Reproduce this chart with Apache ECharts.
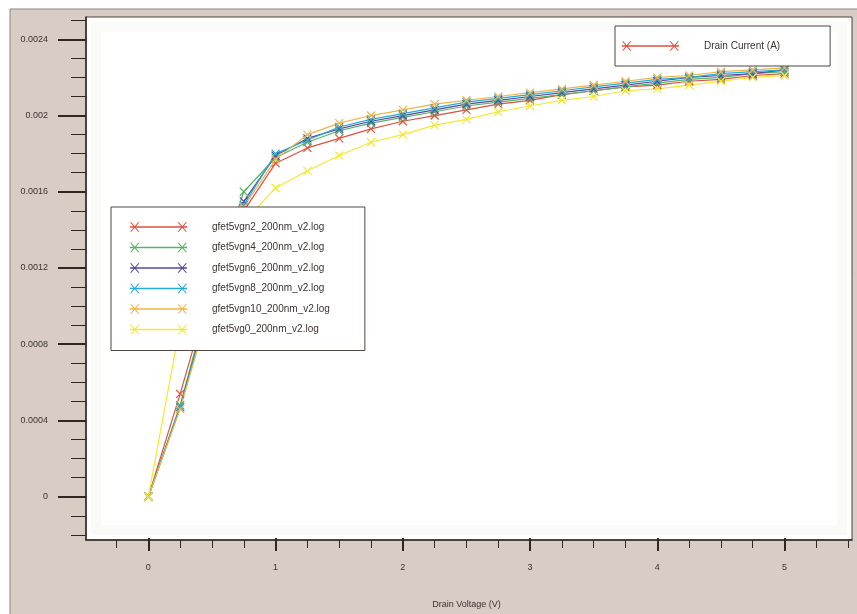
<!DOCTYPE html>
<html>
<head>
<meta charset="utf-8">
<script src="https://cdn.jsdelivr.net/npm/echarts@6/dist/echarts.min.js"></script>
<style>
html,body{margin:0;padding:0;background:#fff;}
#chart{width:857px;height:614px;}
</style>
</head>
<body>
<div id="chart"></div>
<script>
// ---- data ----
const drainVoltage = [0, 0.25, 0.5, 0.75, 1, 1.25, 1.5, 1.75, 2, 2.25, 2.5, 2.75, 3, 3.25, 3.5, 3.75, 4, 4.25, 4.5, 4.75, 5];
const vgn2  = [0, 0.00054, 0.00112, 0.00150, 0.00175, 0.00183, 0.00188, 0.00193, 0.00197, 0.00200, 0.00203, 0.00206, 0.00208, 0.00211, 0.00213, 0.00215, 0.00216, 0.00218, 0.00219, 0.00221, 0.00222];
const vgn4  = [0, 0.00048, 0.00110, 0.00160, 0.00178, 0.00186, 0.00192, 0.00196, 0.00199, 0.00202, 0.00205, 0.00207, 0.00209, 0.00211, 0.00213, 0.00215, 0.00217, 0.00219, 0.00220, 0.00222, 0.00223];
const vgn6  = [0, 0.00047, 0.00107, 0.00155, 0.00179, 0.00188, 0.00193, 0.00197, 0.00200, 0.00203, 0.00206, 0.00208, 0.00210, 0.00212, 0.00214, 0.00216, 0.00218, 0.00220, 0.00221, 0.00222, 0.00224];
const vgn8  = [0, 0.00047, 0.00105, 0.00153, 0.00180, 0.00187, 0.00194, 0.00198, 0.00201, 0.00204, 0.00207, 0.00209, 0.00211, 0.00213, 0.00215, 0.00217, 0.00219, 0.00220, 0.00222, 0.00223, 0.00224];
const vgn10 = [0, 0.00046, 0.00104, 0.00152, 0.00177, 0.00190, 0.00196, 0.00200, 0.00203, 0.00206, 0.00208, 0.00210, 0.00212, 0.00214, 0.00216, 0.00218, 0.00220, 0.00221, 0.00223, 0.00224, 0.00225];
const vg0   = [0, 0.00090, 0.00122, 0.00144, 0.00162, 0.00171, 0.00179, 0.00186, 0.00190, 0.00195, 0.00198, 0.00202, 0.00205, 0.00208, 0.00210, 0.00213, 0.00214, 0.00216, 0.00218, 0.00220, 0.00221];
const seriesNames = ['gfet5vgn2_200nm_v2.log', 'gfet5vgn4_200nm_v2.log', 'gfet5vgn6_200nm_v2.log', 'gfet5vgn8_200nm_v2.log', 'gfet5vgn10_200nm_v2.log', 'gfet5vg0_200nm_v2.log'];
const seriesValues = [vgn2, vgn4, vgn6, vgn8, vgn10, vg0];
const yTickLabels = ['0', '0.0004', '0.0008', '0.0012', '0.0016', '0.002', '0.0024'];
const xTickLabels = ['0', '1', '2', '3', '4', '5'];
const yAxisTitle = 'Drain Current (A)';
const xAxisTitle = 'Drain Voltage (V)';

// ---- styles ----
const colors = ['#e0503f', '#55b466', '#574a9c', '#27a9dc', '#f2b445', '#f4e82c'];
const FONT = 'Liberation Sans, Arial, sans-serif';
const TICK = '#2f2724';
const xMarker = 'path://M0,0 L10,10 M10,0 L0,10';
const legendIcon = 'path://M0,5.3 L60,5.3 L60,6.7 L0,6.7 Z M0,1 L1.4,1 L10,11 L8.6,11 Z M8.6,1 L10,1 L1.4,11 L0,11 Z M50,1 L51.4,1 L60,11 L58.6,11 Z M58.6,1 L60,1 L51.4,11 L50,11 Z';

// pixel mapping helpers (layout only)
const X0 = 148.35, XS = 127.24;   // px of 0 V, px per V
const Y0 = 496.7, YS = 190598;    // px of 0 A, px per A
const W = 857, H = 614;

const hidden = {show: false};
const noSplit = {show: false};

const grids = [
  {left: 86, top: 17, right: W - 852, bottom: H - 540, show: true, backgroundColor: '#ffffff', borderColor: '#4a403c', borderWidth: 1},
  {left: X0 - 0.25 * XS, right: W - (X0 + 5.5 * XS), top: 17, bottom: H - 540},
  {left: X0, right: W - (X0 + 5 * XS), top: 17, bottom: H - 540},
  {left: 86, right: W - 852, top: Y0 - 0.0025 * YS, bottom: H - (Y0 + 0.0002 * YS)},
  {left: 86, right: W - 852, top: Y0 - 0.0024 * YS, bottom: H - Y0}
];

const xAxes = [
  {gridIndex: 0, type: 'value', min: -0.49, max: 5.53, axisLine: {show: true, onZero: false, lineStyle: {color: TICK, width: 1.5}}, axisTick: hidden, axisLabel: hidden, splitLine: noSplit},
  {gridIndex: 1, type: 'value', min: -0.25, max: 5.5, interval: 0.25, axisLine: {show: false, onZero: false}, axisTick: {show: true, length: 8, lineStyle: {color: TICK, width: 1}}, axisLabel: hidden, splitLine: noSplit},
  {gridIndex: 2, type: 'value', min: 0, max: 5, interval: 1, axisLine: {show: false, onZero: false},
    axisTick: {show: true, length: 13, lineStyle: {color: TICK, width: 2}},
    axisLabel: {show: true, margin: 25, fontSize: 9, color: '#3a3330', fontFamily: FONT, formatter: (v) => xTickLabels[Math.round(v)]},
    splitLine: noSplit,
    name: xAxisTitle, nameLocation: 'middle', nameGap: 62, nameTextStyle: {fontSize: 9, color: '#3a3330', fontFamily: FONT}},
  {gridIndex: 3, type: 'value', show: false, splitLine: noSplit},
  {gridIndex: 4, type: 'value', show: false, splitLine: noSplit}
];

const yAxes = [
  {gridIndex: 0, type: 'value', min: -0.000227, max: 0.002517, axisLine: {show: true, onZero: false, lineStyle: {color: TICK, width: 1.5}}, axisTick: hidden, axisLabel: hidden, splitLine: noSplit},
  {gridIndex: 1, type: 'value', show: false, splitLine: noSplit},
  {gridIndex: 2, type: 'value', show: false, splitLine: noSplit},
  {gridIndex: 3, type: 'value', min: -0.0002, max: 0.0025, interval: 0.0001, axisLine: {show: false, onZero: false}, axisTick: {show: true, length: 15, lineStyle: {color: TICK, width: 1}}, axisLabel: hidden, splitLine: noSplit},
  {gridIndex: 4, type: 'value', min: 0, max: 0.0024, interval: 0.0004, axisLine: {show: false, onZero: false},
    axisTick: {show: true, length: 28, lineStyle: {color: TICK, width: 2}},
    axisLabel: {show: true, margin: 38, fontSize: 9, color: '#3a3330', fontFamily: FONT, formatter: (v) => yTickLabels[Math.round(v / 0.0004)]},
    splitLine: noSplit}
];

const series = seriesNames.map((name, i) => ({
  name: name,
  type: 'line',
  xAxisIndex: 0, yAxisIndex: 0,
  data: drainVoltage.map((x, k) => [x, seriesValues[i][k]]),
  color: colors[i],
  symbol: xMarker,
  symbolSize: 8,
  showAllSymbol: true,
  lineStyle: {width: 1.2, color: colors[i]},
  itemStyle: {color: colors[i], borderColor: colors[i], borderWidth: 1.2},
  silent: true
}));
series.push({
  name: yAxisTitle, type: 'line', xAxisIndex: 0, yAxisIndex: 0, data: [],
  color: colors[0], lineStyle: {width: 1, color: colors[0]}, itemStyle: {color: colors[0]}
});

const option = {
  animation: false,
  backgroundColor: '#ffffff',
  graphic: [
    {type: 'rect', z: -10, shape: {x: 10, y: 9, width: 850, height: 610}, style: {fill: '#d8ccc4', stroke: '#8e847e', lineWidth: 1}},
    {type: 'rect', z: 1, silent: true, shape: {x: 96, y: 27, width: 746, height: 503}, style: {fill: 'none', stroke: 'rgba(120,100,90,0.035)', lineWidth: 10}}
  ],
  grid: grids,
  xAxis: xAxes,
  yAxis: yAxes,
  legend: [
    {
      data: seriesNames, orient: 'vertical', left: 111, top: 207,
      padding: [15, 35, 16, 19], itemGap: 10.5, itemWidth: 57, itemHeight: 10,
      icon: legendIcon, backgroundColor: '#ffffff', borderColor: '#4d4643', borderWidth: 1,
      itemStyle: {borderWidth: 0}, selectedMode: false,
      textStyle: {fontSize: 10, color: '#3a3330', fontFamily: FONT, padding: [0, 0, 0, 20]}
    },
    {
      data: [yAxisTitle], orient: 'vertical', left: 615, top: 26,
      padding: [15, 50, 15, 7], itemWidth: 57, itemHeight: 10,
      icon: legendIcon, backgroundColor: '#ffffff', borderColor: '#4d4643', borderWidth: 1,
      itemStyle: {borderWidth: 0}, selectedMode: false,
      textStyle: {fontSize: 10, color: '#3a3330', fontFamily: FONT, padding: [0, 0, 0, 20]}
    }
  ],
  series: series
};

const chart = echarts.init(document.getElementById('chart'), null, {renderer: 'canvas'});
chart.setOption(option);
</script>
</body>
</html>
